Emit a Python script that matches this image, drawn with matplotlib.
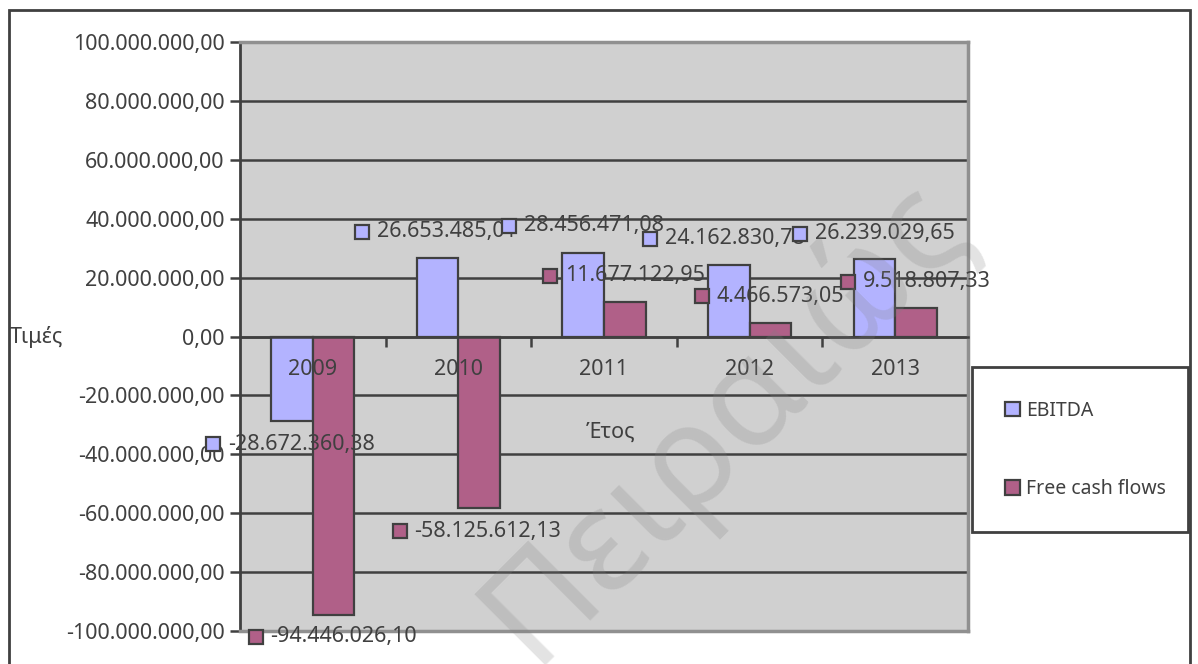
import matplotlib
matplotlib.use("Agg")
import matplotlib.pyplot as plt
from matplotlib.patches import Rectangle
from matplotlib.ticker import FuncFormatter, MultipleLocator

plt.rcParams['font.family'] = ['Noto Sans', 'DejaVu Sans']

# δεδομένα
years = ['2009', '2010', '2011', '2012', '2013']
ebitda = [-28672360.38, 26653485.01, 28456471.08, 24162830.78, 26239029.65]
fcf = [-94446026.10, -58125612.13, 11677122.95, 4466573.05, 9518807.33]

# θέσεις ετικετών (x σε κατηγορίες, y σε τιμές)
ebitda_lbl_x = [-0.685, 0.338, 1.347, 2.316, 3.346]
ebitda_lbl_y = [-36.6e6, 35.6e6, 37.6e6, 33.2e6, 34.9e6]
fcf_lbl_x = [-0.39, 0.599, 1.629, 2.673, 3.676]
fcf_lbl_y = [-102e6, -66.1e6, 20.7e6, 13.6e6, 18.6e6]

c_ebitda = '#B3B3FF'
c_fcf = '#B06088'
dark = '#404040'
fs = 15.5


def fmt(v):
    s = '{:,.2f}'.format(v)
    return s.replace(',', 'X').replace('.', ',').replace('X', '.')


fig = plt.figure(figsize=(11.98, 6.64), dpi=100)
W, H = 1198, 664
ax = fig.add_axes([240 / W, 1 - 631 / H, 728 / W, 589 / H])
ax.set_facecolor('#D0D0D0')

x = list(range(len(years)))
w = 0.286
ax.bar([i - w / 2 for i in x], ebitda, w, color=c_ebitda, edgecolor=dark, linewidth=1.6, zorder=3, label='EBITDA')
ax.bar([i + w / 2 for i in x], fcf, w, color=c_fcf, edgecolor=dark, linewidth=1.6, zorder=3, label='Free cash flows')

ax.set_xlim(-0.5, 4.5)
ax.set_ylim(-100e6, 100e6)
ax.yaxis.set_major_locator(MultipleLocator(20e6))
ax.yaxis.set_major_formatter(FuncFormatter(lambda v, p: fmt(v)))
ax.grid(axis='y', color=dark, linewidth=1.8, zorder=1)
ax.tick_params(axis='y', length=7, width=1.8, color=dark, labelcolor=dark, labelsize=fs, pad=4)

ax.spines['bottom'].set_position(('data', 0))
ax.spines['bottom'].set_color(dark)
ax.spines['bottom'].set_linewidth(1.8)
ax.spines['bottom'].set_zorder(4)
ax.spines['left'].set_color(dark)
ax.spines['left'].set_linewidth(2)
for s in ['top', 'right']:
    ax.spines[s].set_color('#909090')
    ax.spines[s].set_linewidth(2.5)
# γκρι περίγραμμα κάτω
ax.plot([0, 1], [0, 0], transform=ax.transAxes, color='#909090', lw=2.5, clip_on=False, zorder=5)

ax.set_xticks(x)
ax.set_xticklabels([])
ax.set_xticks([i + 0.5 for i in x], minor=True)
ax.tick_params(axis='x', which='major', length=0)
ax.tick_params(axis='x', which='minor', length=7, width=1.8, color=dark, direction='out')

# ονόματα ετών πάνω από τις μπάρες
for i in x:
    ax.annotate(years[i], (i, 0), xytext=(0, -24), textcoords='offset points', ha='center', va='center',
                fontsize=fs, color=dark, zorder=7)

# ετικέτες δεδομένων
for i in x:
    ax.plot(ebitda_lbl_x[i], ebitda_lbl_y[i], marker='s', markersize=10, markerfacecolor=c_ebitda,
            markeredgecolor=dark, markeredgewidth=1.6, clip_on=False, zorder=6)
    ax.annotate(fmt(ebitda[i]), (ebitda_lbl_x[i], ebitda_lbl_y[i]), xytext=(10.5, 0), textcoords='offset points',
                va='center', ha='left', fontsize=fs, color=dark, zorder=6, annotation_clip=False)
    ax.plot(fcf_lbl_x[i], fcf_lbl_y[i], marker='s', markersize=10, markerfacecolor=c_fcf,
            markeredgecolor=dark, markeredgewidth=1.6, clip_on=False, zorder=6)
    ax.annotate(fmt(fcf[i]), (fcf_lbl_x[i], fcf_lbl_y[i]), xytext=(10.5, 0), textcoords='offset points',
                va='center', ha='left', fontsize=fs, color=dark, zorder=6, annotation_clip=False)

fig.text(10 / W, 1 - 337 / H, 'Τιμές', fontsize=fs, color=dark, va='center', ha='left')
fig.text(586 / W, 1 - 432 / H, 'Έτος', fontsize=fs, color=dark, va='center', ha='left')

# υπόμνημα
fig.add_artist(Rectangle((972 / W, 1 - 532 / H), 216 / W, 165 / H, transform=fig.transFigure,
                         facecolor='white', edgecolor=dark, linewidth=2))
leg = fig.legend(loc='upper left', bbox_to_anchor=(1005 / W, 1 - 401 / H), frameon=False,
                 fontsize=14, labelspacing=3.0, handlelength=0.75, handleheight=0.75,
                 handletextpad=0.35, borderaxespad=0, borderpad=0)
for t in leg.get_texts():
    t.set_color(dark)

# εξωτερικό πλαίσιο
fig.add_artist(Rectangle((9 / W, -0.05), 1181 / W, 1.05 - 10 / H, transform=fig.transFigure,
                         facecolor='none', edgecolor=dark, linewidth=2))

# υδατογράφημα
fig.text(724 / W, 1 - 420 / H, 'Πειραιώς', fontsize=102, color='#808080', alpha=0.22,
         rotation=45, ha='center', va='center', zorder=10)

fig.savefig('out.png', dpi=100)
